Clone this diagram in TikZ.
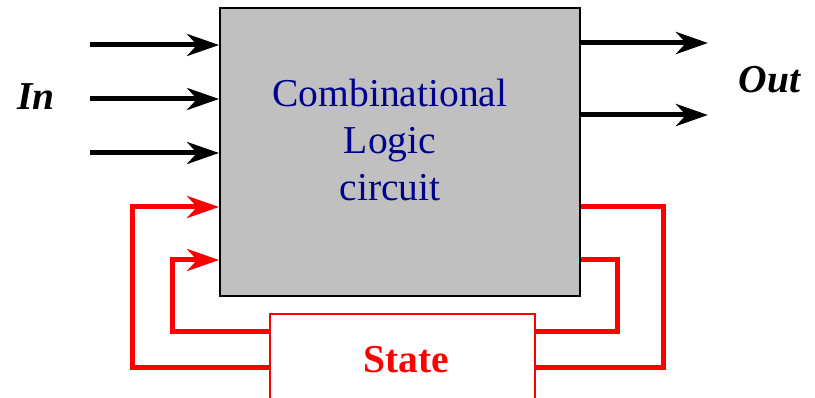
\documentclass[tikz,border=0pt]{standalone}
\usepackage{fontspec}
\setmainfont{Liberation Serif}
\usetikzlibrary{arrows.meta}

\definecolor{navyblue}{RGB}{0,0,140}
\definecolor{boxgray}{RGB}{192,192,192}

\begin{document}
\begin{tikzpicture}[x=0.02cm, y=-0.02cm, line join=miter,
    font=\fontsize{22.5}{27}\selectfont,
    wire/.style={line width=0.1cm, -{Stealth[length=0.64cm, width=0.44cm, inset=0.2cm]}},
    feedback/.style={line width=0.1cm, red},
    logicbox/.style={draw, fill=boxgray, line width=0.04cm, inner sep=0pt,
        minimum width=7.2cm, minimum height=5.76cm},
    statebox/.style={draw=red, fill=white, line width=0.035cm, inner sep=0pt,
        minimum width=5.3cm, minimum height=1.84cm}]

        % Page size, the state box runs off the bottom.
        \useasboundingbox (0,0) rectangle (815,398);
        \clip (0,0) rectangle (815,398);

        % Positions of the free wire ends and the feedback corners.
        \coordinate (in a) at (90,45);
        \coordinate (in b) at (90,99);
        \coordinate (in c) at (90,153);
        \coordinate (out a) at (708,43);
        \coordinate (out b) at (708,115);
        \coordinate (loop outer right) at (663,207);
        \coordinate (loop inner right) at (617,260);
        \coordinate (loop outer left) at (132,368);
        \coordinate (loop inner left) at (172,332);

        % The two blocks.
        \node (logic) [logicbox] at (400,152) {};
        \node (logic text) [text=navyblue, align=center] at (390,140)
            {Combinational\\Logic\\circuit};
        \node (state) [statebox] at (402.5,360) {};
        \node (state text) [text=red, font=\fontsize{22.5}{27}\selectfont\bfseries]
            at (406.5,360) {State};

        % Label the inputs and outputs.
        \node (in label) at (36,97) {\textbf{\textit{In}}};
        \node (out label) at (770,80) {\textbf{\textit{Out}}};

        % Input and output wires.
        \draw[wire] (in a) -- (in a -| logic.west);
        \draw[wire] (in b) -- (in b -| logic.west);
        \draw[wire] (in c) -- (in c -| logic.west);
        \draw[wire] (out a -| logic.east) -- (out a);
        \draw[wire] (out b -| logic.east) -- (out b);

        % Feedback through the state box.
        \draw[feedback] (loop outer right -| logic.east) -- (loop outer right)
            |- (state.east |- loop outer left);
        \draw[feedback] (loop inner right -| logic.east) -- (loop inner right)
            |- (state.east |- loop inner left);
        \draw[feedback, wire] (state.west |- loop outer left) -- (loop outer left)
            |- (logic.west |- loop outer right);
        \draw[feedback, wire] (state.west |- loop inner left) -- (loop inner left)
            |- (logic.west |- loop inner right);
    \end{tikzpicture}
\end{document}
